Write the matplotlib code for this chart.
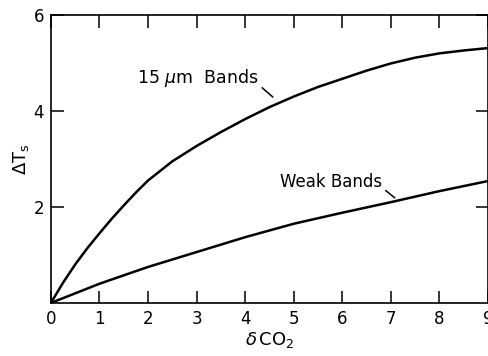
import numpy as np
import matplotlib.pyplot as plt

# CO2 increment vs surface temperature change
dco2 = [0, 0.25, 0.5, 0.75, 1, 1.25, 1.5, 1.75, 2, 2.5, 3, 3.5, 4, 4.5, 5, 5.5, 6, 6.5, 7, 7.5, 8, 8.5, 9]
strong = [0, 0.42, 0.8, 1.14, 1.45, 1.75, 2.03, 2.3, 2.55, 2.95, 3.27, 3.56, 3.83, 4.08, 4.3, 4.5, 4.67, 4.84, 4.99, 5.11, 5.2, 5.26, 5.31]
weak_x = [0, 0.5, 1, 2, 3, 4, 5, 6, 7, 8, 9]
weak = [0, 0.2, 0.4, 0.75, 1.06, 1.37, 1.65, 1.88, 2.1, 2.33, 2.54]

xticks = list(range(10))
yticks = [2, 4, 6]

plt.rcParams['font.family'] = ['DejaVu Sans']

fig = plt.figure(figsize=(4.89, 3.56), dpi=100)
ax = fig.add_axes([0.104, 0.149, 0.894, 0.809])

ax.plot(dco2, strong, color='black', lw=1.8)
ax.plot(weak_x, weak, color='black', lw=1.8)

ax.set_xlim(0, 9)
ax.set_ylim(0, 6)
ax.set_xticks(xticks)
ax.set_yticks(yticks)
ax.tick_params(direction='in', length=9, width=1.1, labelsize=12,
               top=True, right=True, pad=5)
for s in ax.spines.values():
    s.set_linewidth(1.2)

ax.set_xlabel(r'$\delta\,\mathrm{CO_2}$', fontsize=13)
ax.set_ylabel(r'$\Delta\mathrm{T_s}$', fontsize=13)
ax.xaxis.set_label_coords(0.5, -0.095)
ax.yaxis.set_label_coords(-0.045, 0.5)

ax.annotate(r'15 $\mu$m  Bands', xy=(4.57, 4.29), xytext=(1.77, 4.69),
            fontsize=12.5, va='center',
            arrowprops=dict(arrowstyle='-', color='black', lw=1.1,
                            shrinkA=1, shrinkB=0, relpos=(1, 0.2)))
ax.annotate('Weak Bands', xy=(7.08, 2.19), xytext=(4.71, 2.52),
            fontsize=12, va='center',
            arrowprops=dict(arrowstyle='-', color='black', lw=1.1,
                            shrinkA=1, shrinkB=0, relpos=(1, 0.2)))

fig.savefig('out.png', dpi=100)
